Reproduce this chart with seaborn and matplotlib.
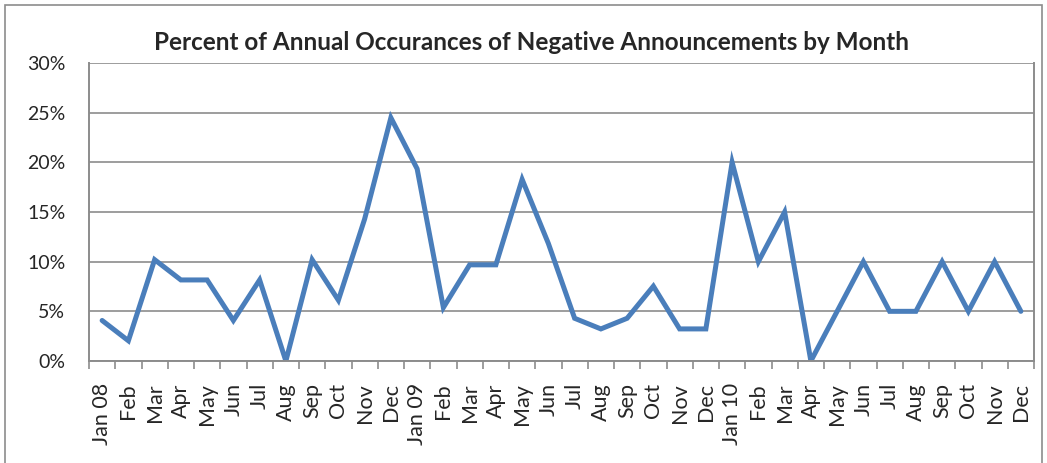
import matplotlib
matplotlib.use("Agg")
import matplotlib.pyplot as plt
import matplotlib.patches as mpatches
from matplotlib.ticker import FixedLocator, PercentFormatter
import seaborn as sns
import pandas as pd

months = ["Jan 08", "Feb", "Mar", "Apr", "May", "Jun", "Jul", "Aug", "Sep", "Oct", "Nov", "Dec",
          "Jan 09", "Feb", "Mar", "Apr", "May", "Jun", "Jul", "Aug", "Sep", "Oct", "Nov", "Dec",
          "Jan 10", "Feb", "Mar", "Apr", "May", "Jun", "Jul", "Aug", "Sep", "Oct", "Nov", "Dec"]
pct_2008 = [4.08, 2.04, 10.20, 8.16, 8.16, 4.08, 8.16, 0.0, 10.20, 6.12, 14.29, 24.49]
pct_2009 = [19.35, 5.38, 9.68, 9.68, 18.28, 11.83, 4.30, 3.23, 4.30, 7.53, 3.23, 3.23]
pct_2010 = [20.0, 10.0, 15.0, 0.0, 5.0, 10.0, 5.0, 5.0, 10.0, 5.0, 10.0, 5.0]
y_ticks = [0, 5, 10, 15, 20, 25, 30]

values = pct_2008 + pct_2009 + pct_2010
df = pd.DataFrame({"idx": range(len(months)), "pct": values})

sns.set_theme(style="white")
plt.rcParams["font.family"] = ["Lato", "DejaVu Sans"]

fig = plt.figure(figsize=(10.47, 4.63), dpi=100)
ax = fig.add_axes([89/1047, 1-361/463, (1034-89)/1047, (361-63)/463])

sns.lineplot(data=df, x="idx", y="pct", ax=ax, color="#4a7ebb", linewidth=3.6,
             solid_joinstyle="miter")

n = len(months)
ax.set_xlim(-0.5, n - 0.5)
ax.set_ylim(0, 30)
ax.set_yticks(y_ticks)
ax.yaxis.set_major_formatter(PercentFormatter(decimals=0))
ax.yaxis.grid(True, color="#8c8c8c", linewidth=1.2)
ax.set_axisbelow(True)

ax.xaxis.set_major_locator(FixedLocator([i - 0.5 for i in range(n + 1)]))
ax.set_xticklabels([])
ax.xaxis.set_minor_locator(FixedLocator(list(range(n))))
ax.set_xticklabels(months, minor=True, rotation=90, fontsize=15.5)
ax.tick_params(axis="x", which="major", length=6, width=1.2, color="#8c8c8c", direction="out", bottom=True)
ax.tick_params(axis="x", which="minor", length=0, pad=16)
ax.tick_params(axis="y", length=0, labelsize=14, pad=17)
ax.set_xlabel("")
ax.set_ylabel("")

for s in ["left", "bottom", "right"]:
    ax.spines[s].set_visible(True)
    ax.spines[s].set_color("#8c8c8c")
    ax.spines[s].set_linewidth(1.4)
ax.spines["top"].set_visible(False)

fig.text(532/1047, 1-42/463, "Percent of Annual Occurances of Negative Announcements by Month",
         ha="center", va="center", fontsize=17.5, fontweight="bold")

border = mpatches.Rectangle((5/1047, -0.05), (1042-5)/1047, 1.05-5/463, transform=fig.transFigure,
                            fill=False, edgecolor="#8c8c8c", linewidth=1.2)
fig.patches.append(border)

fig.savefig("out.png", dpi=100)
